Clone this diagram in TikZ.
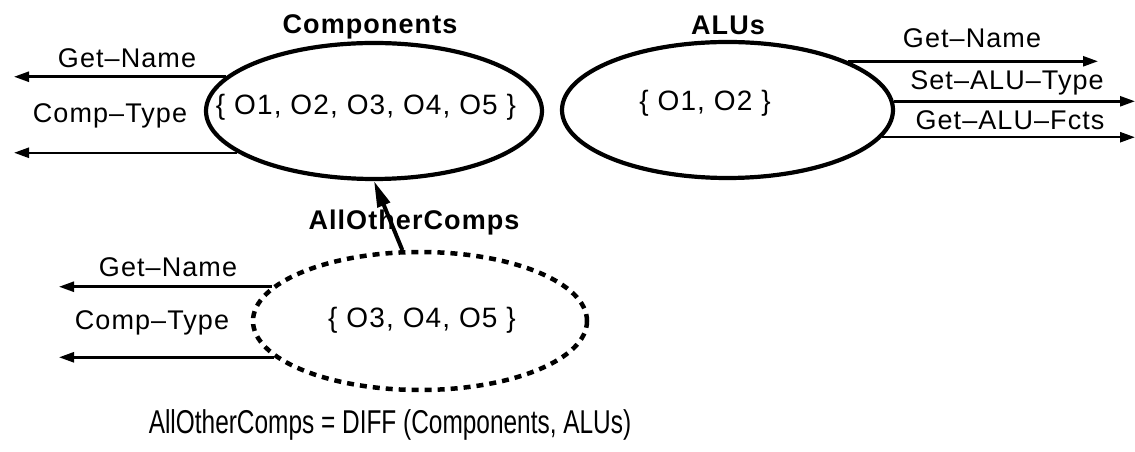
\documentclass[tikz,border=0pt]{standalone}
\usepackage{fontspec}
\setmainfont{Liberation Sans}
\newfontfamily\lblfont[LetterSpace=4]{Liberation Sans}
\usetikzlibrary{arrows.meta,shapes.geometric}
\begin{document}
\begin{tikzpicture}[x=1pt,y=1pt,
  setnode/.style={ellipse,draw,line width=4.2pt,inner sep=0pt},
  lbl/.style={inner sep=0pt,font=\lblfont\fontsize{27}{30}\selectfont},
  settxt/.style={inner sep=0pt,font=\lblfont\fontsize{28}{30}\selectfont},
  ttl/.style={inner sep=0pt,font=\lblfont\fontsize{27}{30}\selectfont\bfseries},
  arr/.style={line width=2.5pt,-{Triangle[length=15pt,width=10pt]}},
  dotline/.style={line width=4.5pt,dash pattern=on 7pt off 6pt}]
\useasboundingbox[fill=white] (0,0) rectangle (1135,452);
% sets
\node[setnode,minimum width=336pt,minimum height=136pt] (comp) at (374,341) {};
\node[setnode,minimum width=331pt,minimum height=136pt] (alu) at (727.5,342) {};
\node[setnode,dotline,minimum width=334pt,minimum height=138pt] (other) at (420,131) {};
\node[settxt] (compset) at (366,345) {\{ O1, O2, O3, O4, O5 \}};
\node[settxt] (aluset) at (705,349) {\{ O1, O2 \}};
\node[settxt] (otherset) at (422,132) {\{ O3, O4, O5 \}};
% titles
\node[ttl] (tcomp) at (370,425) {Components};
\node[ttl] (talu) at (728,427) {ALUs};
\node[ttl] (tother) at (414,229) {AllOtherComps};
% end coordinates
\coordinate (lend) at (14,0);
\coordinate (lend2) at (59,0);
\coordinate (rend) at (1098,0);
\coordinate (rend2) at (1135,0);
% Components arrows
\draw[arr] (comp.167.3) -- (comp.167.3 -| lend);
\draw[arr] (comp.197.6) -- (comp.197.6 -| lend);
\node[lbl] (cg) at (127,394) {Get–Name};
\node[lbl] (ct) at (110,336) {Comp–Type};
% ALUs arrows
\draw[arr] (alu.22.3) -- (alu.22.3 -| rend);
\draw[arr] (alu.3.1) -- (alu.3.1 -| rend2);
\draw[arr] (alu.-10.1) -- (alu.-10.1 -| rend2);
\node[lbl] (ag) at (972,414) {Get–Name};
\node[lbl] (as) at (1007,369) {Set–ALU–Type};
\node[lbl] (af) at (1010,332) {Get–ALU–Fcts};
% AllOtherComps arrows
\draw[arr] (other.167.3) -- (other.167.3 -| lend2);
\draw[arr] (other.194.2) -- (other.194.2 -| lend2);
\node[lbl] (og) at (168,185) {Get–Name};
\node[lbl] (ot) at (152,129) {Comp–Type};
% subset arrow
\draw[line width=4pt,-{Triangle[length=26pt,width=13pt]}] (other.104.6) -- (comp.south);
% caption
\node[inner sep=0pt,xscale=0.74,font=\fontsize{33}{38}\selectfont] (cap) at (390,27) {AllOtherComps = DIFF (Components, ALUs)};
\end{tikzpicture}
\end{document}
